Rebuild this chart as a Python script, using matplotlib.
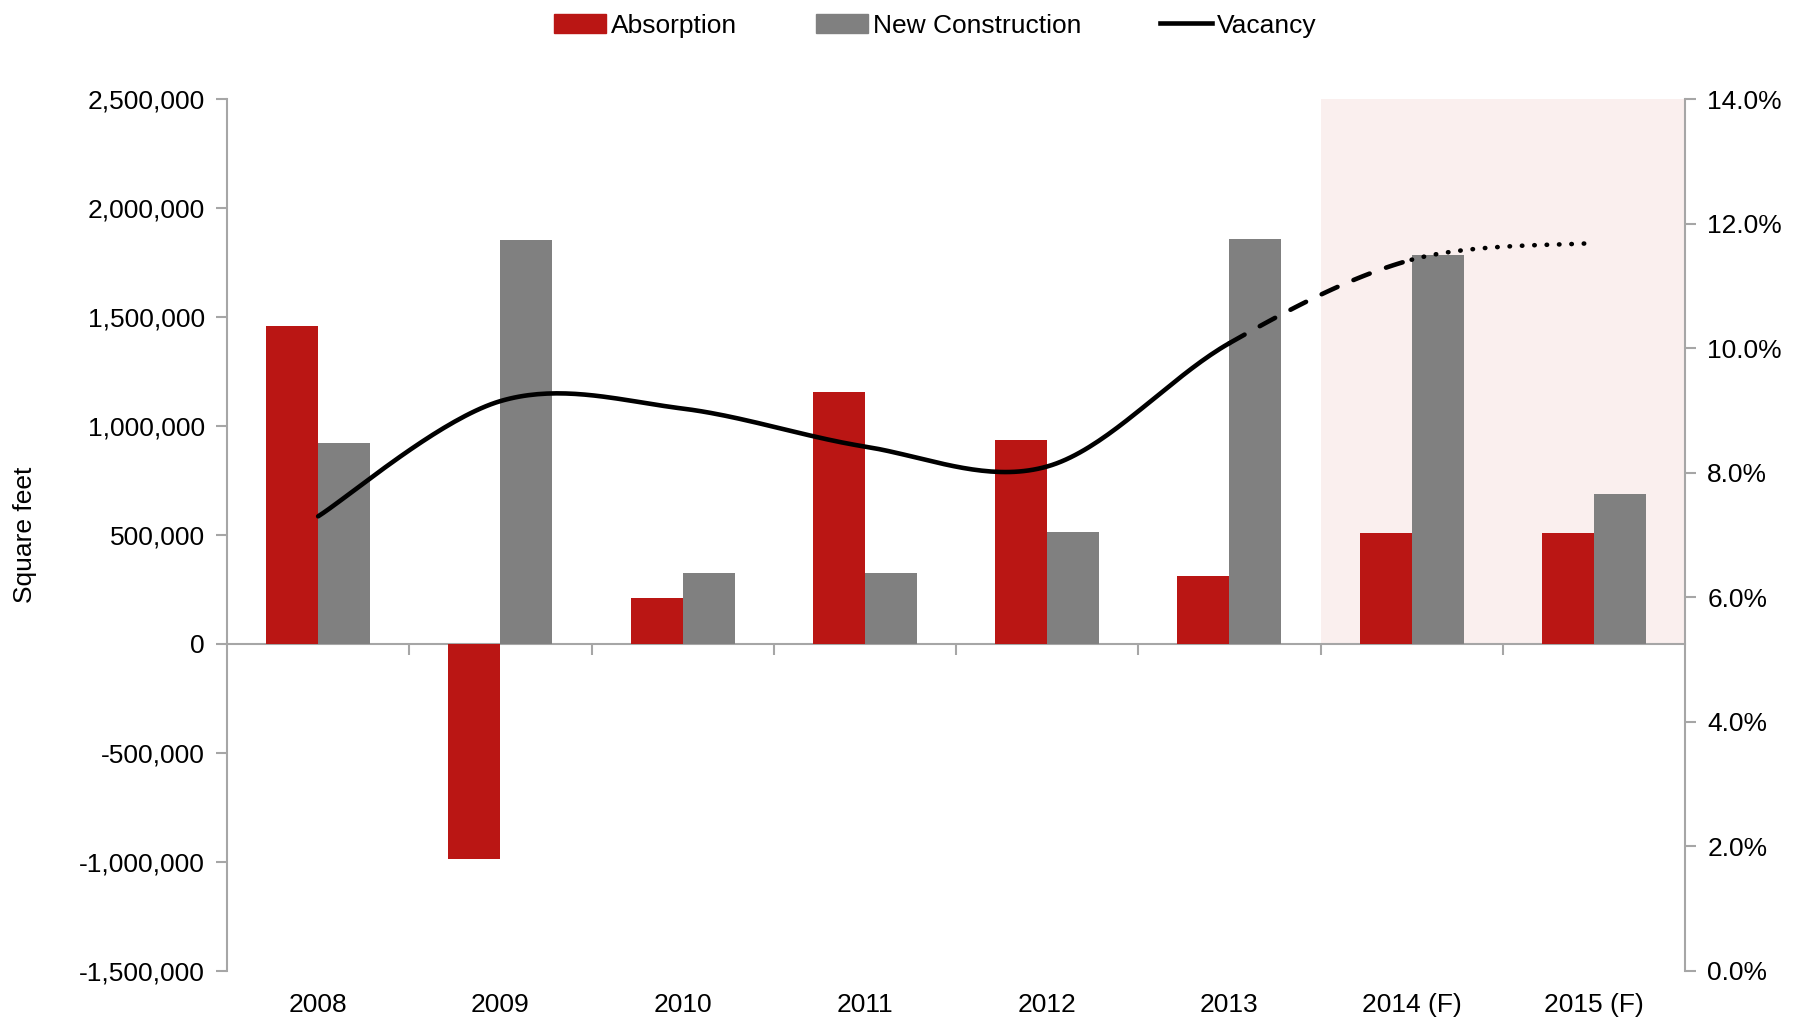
import numpy as np
import matplotlib.pyplot as plt
from matplotlib.patches import Patch
from matplotlib.lines import Line2D
from matplotlib.ticker import FuncFormatter

# data
years = ['2008', '2009', '2010', '2011', '2012', '2013', '2014 (F)', '2015 (F)']
absorption = [1460000, -985000, 210000, 1155000, 937000, 310000, 510000, 510000]
new_construction = [920000, 1855000, 325000, 325000, 512000, 1860000, 1785000, 690000]
vacancy = [7.3, 9.15, 9.03, 8.42, 8.1, 10.08, 11.42, 11.69]

red = '#BA1614'
grey = '#808080'
axis_grey = '#A6A6A6'

plt.rcParams['font.family'] = ['Liberation Sans', 'DejaVu Sans']
plt.rcParams['font.size'] = 19


def smooth(xs, ys, n=40):
    # catmull-rom style smoothing like the spreadsheet "smoothed line"
    xs = np.asarray(xs, float)
    ys = np.asarray(ys, float)
    px = np.concatenate([[xs[0]], xs, [xs[-1]]])
    py = np.concatenate([[ys[0]], ys, [ys[-1]]])
    segs = []
    for i in range(1, len(px) - 2):
        t = np.linspace(0, 1, n)
        p0 = np.array([px[i], py[i]])
        p3 = np.array([px[i + 1], py[i + 1]])
        p1 = p0 + (np.array([px[i + 1], py[i + 1]]) - np.array([px[i - 1], py[i - 1]])) / 6
        p2 = p3 - (np.array([px[i + 2], py[i + 2]]) - np.array([px[i], py[i]])) / 6
        pts = ((1 - t)[:, None] ** 3 * p0 + 3 * ((1 - t) ** 2 * t)[:, None] * p1
               + 3 * ((1 - t) * t ** 2)[:, None] * p2 + (t ** 3)[:, None] * p3)
        segs.append(pts)
    return segs


fig = plt.figure(figsize=(18.06, 10.21), dpi=100)
ax = fig.add_axes([0.1257, 0.049, 0.8073, 0.854])

x = np.arange(len(years))
w = 0.285

# forecast shading
ax.axvspan(5.5, 7.5, ymin=0.375, ymax=1.0, color='#FAEFEE', zorder=0, lw=0)

ax.bar(x - w / 2, absorption, w, color=red, zorder=2)
ax.bar(x + w / 2, new_construction, w, color=grey, zorder=2)

ax.set_xlim(-0.5, 7.5)
ax.set_ylim(-1500000, 2500000)
ax.set_yticks(np.arange(-1500000, 2500001, 500000))
ax.yaxis.set_major_formatter(FuncFormatter(lambda v, p: '{:,.0f}'.format(v)))
ax.set_ylabel('Square feet', labelpad=30)

ax.set_xticks(x)
ax.set_xticklabels(years)
ax.tick_params(axis='x', length=0, pad=16)
ax.tick_params(axis='y', length=8, color=axis_grey, width=1.5, direction='out', pad=8)

for s in ['top', 'bottom', 'right']:
    ax.spines[s].set_visible(False)
ax.spines['left'].set_color(axis_grey)
ax.spines['left'].set_linewidth(1.5)

# zero line with category dividers
sec = ax.secondary_xaxis(0.375)
sec.set_xticks(np.arange(0.5, 7.5, 1))
sec.set_xticklabels([])
sec.tick_params(length=8, color=axis_grey, width=1.5, direction='out')
sec.spines['bottom'].set_color(axis_grey)
sec.spines['bottom'].set_linewidth(1.5)

# vacancy on right axis
ax2 = ax.twinx()
ax2.set_ylim(0, 14)
ax2.set_yticks(np.arange(0, 14.1, 2))
ax2.yaxis.set_major_formatter(FuncFormatter(lambda v, p: '{:.1f}%'.format(v)))
ax2.tick_params(axis='y', length=8, color=axis_grey, width=1.5, direction='out', pad=8)
for s in ['top', 'bottom', 'left']:
    ax2.spines[s].set_visible(False)
ax2.spines['right'].set_color(axis_grey)
ax2.spines['right'].set_linewidth(1.5)

segs = smooth(x, vacancy)
solid = np.vstack(segs[:5])
ax2.plot(solid[:, 0], solid[:, 1], color='black', lw=3.3, solid_capstyle='round', zorder=3)
ax2.plot(segs[5][:, 0], segs[5][:, 1], color='black', lw=3.3, dashes=(3.8, 3.8),
         dash_capstyle='round', zorder=3)
ax2.plot(segs[6][:, 0], segs[6][:, 1], color='black', lw=3.3, dashes=(0.1, 2.6),
         dash_capstyle='round', zorder=3)

handles = [Patch(color=red), Patch(color=grey), Line2D([], [], color='black', lw=3.3)]
fig.legend(handles, ['Absorption', 'New Construction', 'Vacancy'], loc='upper center',
           bbox_to_anchor=(0.518, 1.01), ncol=3, frameon=False, handlelength=1.95,
           handletextpad=0.2, columnspacing=3.0, fontsize=19)

fig.savefig('out.png', dpi=100)
